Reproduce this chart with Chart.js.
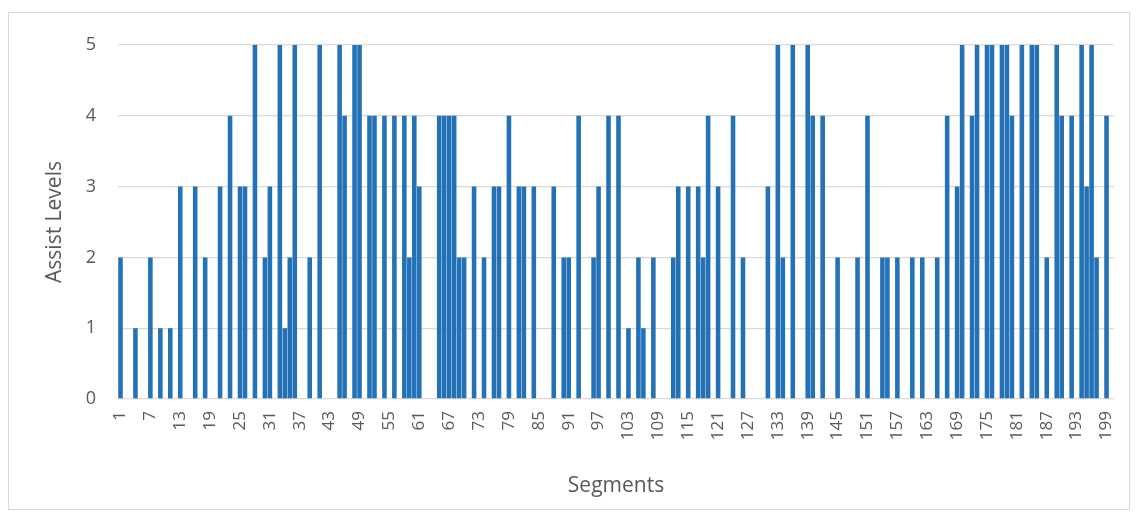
<!DOCTYPE html>
<html>
<head>
<meta charset="utf-8">
<script src="https://cdn.jsdelivr.net/npm/chart.js@4"></script>
<style>
  html, body { margin: 0; padding: 0; background: #fff; }
  #wrap { position: relative; width: 1138px; height: 519px; }
  #frame {
    position: absolute; left: 8px; top: 12px; width: 1120px; height: 496px;
    border: 1px solid #d9d9d9; pointer-events: none;
  }
</style>
</head>
<body>
<div id="wrap">
  <canvas id="chart" width="1138" height="519"></canvas>
  <div id="frame"></div>
</div>
<script>
// segment numbers 1..200
const segments = Array.from({ length: 200 }, (_, i) => String(i + 1));

// assist level per segment (0 = no bar)
const assistLevels = [
  2, 0, 0, 1, 0, 0, 2, 0, 1, 0,   // 1-10
  1, 0, 3, 0, 0, 3, 0, 2, 0, 0,   // 11-20
  3, 0, 4, 0, 3, 3, 0, 5, 0, 2,   // 21-30
  3, 0, 5, 1, 2, 5, 0, 0, 2, 0,   // 31-40
  5, 0, 0, 0, 5, 4, 0, 5, 5, 0,   // 41-50
  4, 4, 0, 4, 0, 4, 0, 4, 2, 4,   // 51-60
  3, 0, 0, 0, 4, 4, 4, 4, 2, 2,   // 61-70
  0, 3, 0, 2, 0, 3, 3, 0, 4, 0,   // 71-80
  3, 3, 0, 3, 0, 0, 0, 3, 0, 2,   // 81-90
  2, 0, 4, 0, 0, 2, 3, 0, 4, 0,   // 91-100
  4, 0, 1, 0, 2, 1, 0, 2, 0, 0,   // 101-110
  0, 2, 3, 0, 3, 0, 3, 2, 4, 0,   // 111-120
  3, 0, 0, 4, 0, 2, 0, 0, 0, 0,   // 121-130
  3, 0, 5, 2, 0, 5, 0, 0, 5, 4,   // 131-140
  0, 4, 0, 0, 2, 0, 0, 0, 2, 0,   // 141-150
  4, 0, 0, 2, 2, 0, 2, 0, 0, 2,   // 151-160
  0, 2, 0, 0, 2, 0, 4, 0, 3, 5,   // 161-170
  0, 4, 5, 0, 5, 5, 0, 5, 5, 4,   // 171-180
  0, 5, 0, 5, 5, 0, 2, 0, 5, 4,   // 181-190
  0, 4, 0, 5, 3, 5, 2, 0, 4, 0    // 191-200
];

// x labels that are printed (every sixth segment)
const shownTicks = ['1', '7', '13', '19', '25', '31', '37', '43', '49', '55', '61', '67',
  '73', '79', '85', '91', '97', '103', '109', '115', '121', '127', '133', '139', '145',
  '151', '157', '163', '169', '175', '181', '187', '193', '199'];

const yTicks = [0, 1, 2, 3, 4, 5];

const textColor = '#595959';
const gridColor = '#d9d9d9';
const fontFamily = '"Open Sans", "Liberation Sans", sans-serif';

new Chart(document.getElementById('chart'), {
  type: 'bar',
  data: {
    labels: segments,
    datasets: [{
      label: 'Assist Levels',
      data: assistLevels,
      backgroundColor: '#2372b8',
      barPercentage: 0.92,
      categoryPercentage: 1.0,
    }],
  },
  options: {
    responsive: false,
    animation: false,
    layout: { padding: { left: 30, right: 24, top: 45, bottom: 20 } },
    plugins: {
      legend: { display: false },
      tooltip: { enabled: false },
    },
    scales: {
      x: {
        grid: { display: false },
        border: { display: false },
        ticks: {
          autoSkip: false,
          maxRotation: 90,
          minRotation: 90,
          padding: 4,
          color: textColor,
          font: { family: fontFamily, size: 17 },
          callback: function (value) {
            const lab = this.getLabelForValue(value);
            return shownTicks.includes(lab) ? lab : null;
          },
        },
        title: {
          display: true,
          text: 'Segments',
          color: textColor,
          font: { family: fontFamily, size: 21 },
          padding: { top: 4, bottom: 0 },
        },
        afterFit: (scale) => { scale.height = 100; },
      },
      y: {
        min: 0,
        max: 5,
        afterBuildTicks: (scale) => { scale.ticks = yTicks.map(v => ({ value: v })); },
        grid: { color: gridColor, drawTicks: false, lineWidth: 1.3 },
        border: { display: false },
        ticks: {
          padding: 22,
          color: textColor,
          font: { family: fontFamily, size: 18 },
        },
        title: {
          display: true,
          text: 'Assist Levels',
          color: textColor,
          font: { family: fontFamily, size: 21 },
          padding: { top: 12, bottom: 0 },
        },
        afterFit: (scale) => { scale.width = 88; },
      },
    },
  },
});
</script>
</body>
</html>
